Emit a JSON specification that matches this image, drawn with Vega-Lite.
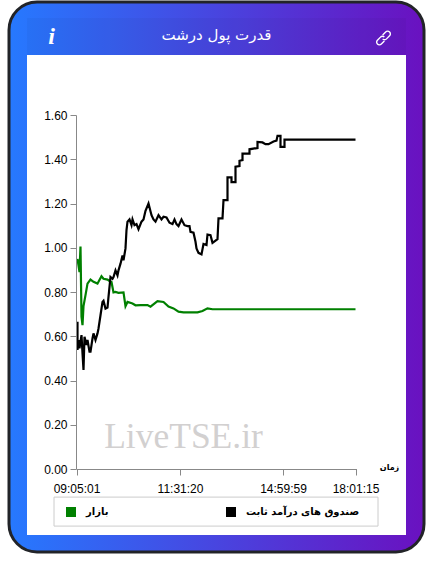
{
  "$schema": "https://vega.github.io/schema/vega-lite/v6.json",
  "width": 415,
  "height": 550,
  "padding": {"left": 9, "top": 2, "right": 9, "bottom": 22},
  "autosize": "none",
  "background": "white",
  "view": {
    "cornerRadius": 28,
    "stroke": "#222428",
    "strokeWidth": 3,
    "fill": {
      "gradient": "linear",
      "x1": 0, "y1": 0, "x2": 1, "y2": 0,
      "stops": [
        {"offset": 0, "color": "#2679ff"},
        {"offset": 1, "color": "#6a11c0"}
      ]
    }
  },
  "title": {
    "text": "قدرت پول درشت",
    "anchor": "middle",
    "offset": -41,
    "color": "#ffffff",
    "font": "DejaVu Sans",
    "fontSize": 15,
    "fontWeight": "normal"
  },
  "datasets": {
    "panel": [{"from": -49.5, "to": 329.5, "low": -0.298, "high": 1.871}],
    "header": [{"from": -49.5, "to": 329.5, "low": 1.871, "high": 2.038}],
    "legendbox": [{"from": -22.5, "to": 301.5, "low": -0.258, "high": -0.127}],
    "notes": [
      {"sample": -25, "value": 1.953, "note": "i", "kind": "icon"},
      {"sample": 107, "value": 0.145, "note": "LiveTSE.ir", "kind": "mark"},
      {"sample": 313, "value": 0.01, "note": "زمان", "kind": "unit"}
    ],
    "link": [{"sample": 307, "value": 1.948}],
    "series": [
      {"sample": 1, "value": 0.95, "series": "بازار"},
      {"sample": 3, "value": 0.89, "series": "بازار"},
      {"sample": 4, "value": 1.006, "series": "بازار"},
      {"sample": 5, "value": 0.688, "series": "بازار"},
      {"sample": 6, "value": 0.65, "series": "بازار"},
      {"sample": 7, "value": 0.736, "series": "بازار"},
      {"sample": 9, "value": 0.786, "series": "بازار"},
      {"sample": 11, "value": 0.838, "series": "بازار"},
      {"sample": 13, "value": 0.85, "series": "بازار"},
      {"sample": 14, "value": 0.856, "series": "بازار"},
      {"sample": 17, "value": 0.846, "series": "بازار"},
      {"sample": 21, "value": 0.838, "series": "بازار"},
      {"sample": 22, "value": 0.846, "series": "بازار"},
      {"sample": 25, "value": 0.871, "series": "بازار"},
      {"sample": 27, "value": 0.86, "series": "بازار"},
      {"sample": 31, "value": 0.856, "series": "بازار"},
      {"sample": 33, "value": 0.85, "series": "بازار"},
      {"sample": 35, "value": 0.845, "series": "بازار"},
      {"sample": 37, "value": 0.798, "series": "بازار"},
      {"sample": 39, "value": 0.8, "series": "بازار"},
      {"sample": 42, "value": 0.796, "series": "بازار"},
      {"sample": 47, "value": 0.798, "series": "بازار"},
      {"sample": 49, "value": 0.736, "series": "بازار"},
      {"sample": 51, "value": 0.755, "series": "بازار"},
      {"sample": 56, "value": 0.748, "series": "بازار"},
      {"sample": 59, "value": 0.74, "series": "بازار"},
      {"sample": 64, "value": 0.741, "series": "بازار"},
      {"sample": 71, "value": 0.741, "series": "بازار"},
      {"sample": 74, "value": 0.734, "series": "بازار"},
      {"sample": 81, "value": 0.759, "series": "بازار"},
      {"sample": 87, "value": 0.755, "series": "بازار"},
      {"sample": 92, "value": 0.734, "series": "بازار"},
      {"sample": 97, "value": 0.726, "series": "بازار"},
      {"sample": 102, "value": 0.711, "series": "بازار"},
      {"sample": 107, "value": 0.708, "series": "بازار"},
      {"sample": 121, "value": 0.708, "series": "بازار"},
      {"sample": 126, "value": 0.714, "series": "بازار"},
      {"sample": 131, "value": 0.726, "series": "بازار"},
      {"sample": 136, "value": 0.722, "series": "بازار"},
      {"sample": 180, "value": 0.722, "series": "بازار"},
      {"sample": 279, "value": 0.722, "series": "بازار"},

      {"sample": 1, "value": 0.666, "series": "صندوق های درآمد ثابت"},
      {"sample": 1, "value": 0.538, "series": "صندوق های درآمد ثابت"},
      {"sample": 2, "value": 0.583, "series": "صندوق های درآمد ثابت"},
      {"sample": 3, "value": 0.545, "series": "صندوق های درآمد ثابت"},
      {"sample": 5, "value": 0.605, "series": "صندوق های درآمد ثابت"},
      {"sample": 6, "value": 0.523, "series": "صندوق های درآمد ثابت"},
      {"sample": 7, "value": 0.448, "series": "صندوق های درآمد ثابت"},
      {"sample": 8, "value": 0.598, "series": "صندوق های درآمد ثابت"},
      {"sample": 10, "value": 0.56, "series": "صندوق های درآمد ثابت"},
      {"sample": 11, "value": 0.583, "series": "صندوق های درآمد ثابت"},
      {"sample": 13, "value": 0.53, "series": "صندوق های درآمد ثابت"},
      {"sample": 14, "value": 0.53, "series": "صندوق های درآمد ثابت"},
      {"sample": 16, "value": 0.59, "series": "صندوق های درآمد ثابت"},
      {"sample": 17, "value": 0.613, "series": "صندوق های درآمد ثابت"},
      {"sample": 19, "value": 0.583, "series": "صندوق های درآمد ثابت"},
      {"sample": 21, "value": 0.613, "series": "صندوق های درآمد ثابت"},
      {"sample": 22, "value": 0.635, "series": "صندوق های درآمد ثابت"},
      {"sample": 24, "value": 0.695, "series": "صندوق های درآمد ثابت"},
      {"sample": 26, "value": 0.755, "series": "صندوق های درآمد ثابت"},
      {"sample": 27, "value": 0.76, "series": "صندوق های درآمد ثابت"},
      {"sample": 29, "value": 0.725, "series": "صندوق های درآمد ثابت"},
      {"sample": 31, "value": 0.73, "series": "صندوق های درآمد ثابت"},
      {"sample": 32, "value": 0.778, "series": "صندوق های درآمد ثابت"},
      {"sample": 34, "value": 0.868, "series": "صندوق های درآمد ثابت"},
      {"sample": 36, "value": 0.86, "series": "صندوق های درآمد ثابت"},
      {"sample": 37, "value": 0.868, "series": "صندوق های درآمد ثابت"},
      {"sample": 39, "value": 0.898, "series": "صندوق های درآمد ثابت"},
      {"sample": 41, "value": 0.875, "series": "صندوق های درآمد ثابت"},
      {"sample": 42, "value": 0.898, "series": "صندوق های درآمد ثابت"},
      {"sample": 44, "value": 0.928, "series": "صندوق های درآمد ثابت"},
      {"sample": 46, "value": 0.965, "series": "صندوق های درآمد ثابت"},
      {"sample": 47, "value": 0.943, "series": "صندوق های درآمد ثابت"},
      {"sample": 49, "value": 0.997, "series": "صندوق های درآمد ثابت"},
      {"sample": 50, "value": 1.08, "series": "صندوق های درآمد ثابت"},
      {"sample": 51, "value": 1.118, "series": "صندوق های درآمد ثابت"},
      {"sample": 53, "value": 1.128, "series": "صندوق های درآمد ثابت"},
      {"sample": 55, "value": 1.102, "series": "صندوق های درآمد ثابت"},
      {"sample": 56, "value": 1.128, "series": "صندوق های درآمد ثابت"},
      {"sample": 58, "value": 1.102, "series": "صندوق های درآمد ثابت"},
      {"sample": 60, "value": 1.107, "series": "صندوق های درآمد ثابت"},
      {"sample": 62, "value": 1.084, "series": "صندوق های درآمد ثابت"},
      {"sample": 65, "value": 1.118, "series": "صندوق های درآمد ثابت"},
      {"sample": 67, "value": 1.128, "series": "صندوق های درآمد ثابت"},
      {"sample": 69, "value": 1.167, "series": "صندوق های درآمد ثابت"},
      {"sample": 72, "value": 1.2, "series": "صندوق های درآمد ثابت"},
      {"sample": 75, "value": 1.147, "series": "صندوق های درآمد ثابت"},
      {"sample": 77, "value": 1.128, "series": "صندوق های درآمد ثابت"},
      {"sample": 79, "value": 1.118, "series": "صندوق های درآمد ثابت"},
      {"sample": 82, "value": 1.147, "series": "صندوق های درآمد ثابت"},
      {"sample": 85, "value": 1.128, "series": "صندوق های درآمد ثابت"},
      {"sample": 87, "value": 1.14, "series": "صندوق های درآمد ثابت"},
      {"sample": 90, "value": 1.137, "series": "صندوق های درآمد ثابت"},
      {"sample": 93, "value": 1.113, "series": "صندوق های درآمد ثابت"},
      {"sample": 96, "value": 1.107, "series": "صندوق های درآمد ثابت"},
      {"sample": 98, "value": 1.128, "series": "صندوق های درآمد ثابت"},
      {"sample": 100, "value": 1.107, "series": "صندوق های درآمد ثابت"},
      {"sample": 102, "value": 1.098, "series": "صندوق های درآمد ثابت"},
      {"sample": 105, "value": 1.128, "series": "صندوق های درآمد ثابت"},
      {"sample": 108, "value": 1.102, "series": "صندوق های درآمد ثابت"},
      {"sample": 111, "value": 1.098, "series": "صندوق های درآمد ثابت"},
      {"sample": 113, "value": 1.098, "series": "صندوق های درآمد ثابت"},
      {"sample": 114, "value": 1.072, "series": "صندوق های درآمد ثابت"},
      {"sample": 117, "value": 1.068, "series": "صندوق های درآمد ثابت"},
      {"sample": 119, "value": 1.027, "series": "صندوق های درآمد ثابت"},
      {"sample": 120, "value": 0.997, "series": "صندوق های درآمد ثابت"},
      {"sample": 122, "value": 0.977, "series": "صندوق های درآمد ثابت"},
      {"sample": 125, "value": 0.97, "series": "صندوق های درآمد ثابت"},
      {"sample": 127, "value": 1.017, "series": "صندوق های درآمد ثابت"},
      {"sample": 130, "value": 1.012, "series": "صندوق های درآمد ثابت"},
      {"sample": 131, "value": 1.06, "series": "صندوق های درآمد ثابت"},
      {"sample": 134, "value": 1.057, "series": "صندوق های درآمد ثابت"},
      {"sample": 136, "value": 1.022, "series": "صندوق های درآمد ثابت"},
      {"sample": 141, "value": 1.039, "series": "صندوق های درآمد ثابت"},
      {"sample": 142, "value": 1.133, "series": "صندوق های درآمد ثابت"},
      {"sample": 146, "value": 1.133, "series": "صندوق های درآمد ثابت"},
      {"sample": 147, "value": 1.215, "series": "صندوق های درآمد ثابت"},
      {"sample": 151, "value": 1.215, "series": "صندوق های درآمد ثابت"},
      {"sample": 151, "value": 1.318, "series": "صندوق های درآمد ثابت"},
      {"sample": 155, "value": 1.318, "series": "صندوق های درآمد ثابت"},
      {"sample": 155, "value": 1.297, "series": "صندوق های درآمد ثابت"},
      {"sample": 159, "value": 1.297, "series": "صندوق های درآمد ثابت"},
      {"sample": 159, "value": 1.366, "series": "صندوق های درآمد ثابت"},
      {"sample": 163, "value": 1.369, "series": "صندوق های درآمد ثابت"},
      {"sample": 163, "value": 1.393, "series": "صندوق های درآمد ثابت"},
      {"sample": 166, "value": 1.396, "series": "صندوق های درآمد ثابت"},
      {"sample": 166, "value": 1.425, "series": "صندوق های درآمد ثابت"},
      {"sample": 173, "value": 1.425, "series": "صندوق های درآمد ثابت"},
      {"sample": 173, "value": 1.445, "series": "صندوق های درآمد ثابت"},
      {"sample": 181, "value": 1.451, "series": "صندوق های درآمد ثابت"},
      {"sample": 181, "value": 1.478, "series": "صندوق های درآمد ثابت"},
      {"sample": 186, "value": 1.476, "series": "صندوق های درآمد ثابت"},
      {"sample": 189, "value": 1.468, "series": "صندوق های درآمد ثابت"},
      {"sample": 192, "value": 1.468, "series": "صندوق های درآمد ثابت"},
      {"sample": 197, "value": 1.48, "series": "صندوق های درآمد ثابت"},
      {"sample": 200, "value": 1.484, "series": "صندوق های درآمد ثابت"},
      {"sample": 201, "value": 1.506, "series": "صندوق های درآمد ثابت"},
      {"sample": 204, "value": 1.506, "series": "صندوق های درآمد ثابت"},
      {"sample": 204, "value": 1.456, "series": "صندوق های درآمد ثابت"},
      {"sample": 208, "value": 1.456, "series": "صندوق های درآمد ثابت"},
      {"sample": 208, "value": 1.489, "series": "صندوق های درآمد ثابت"},
      {"sample": 279, "value": 1.489, "series": "صندوق های درآمد ثابت"}
    ]
  },
  "data": {"name": "series"},
  "layer": [
    {
      "data": {"name": "panel"},
      "mark": {"type": "rect", "fill": "white"},
      "encoding": {
        "x": {
          "field": "from",
          "type": "quantitative",
          "title": null,
          "scale": {"domain": [0, 279], "range": [67.5, 347.5]},
          "axis": {
            "values": [0, 103.5, 206.5, 279],
            "labelExpr": "datum.value === 0 ? '09:05:01' : datum.value === 103.5 ? '11:31:20' : datum.value === 206.5 ? '14:59:59' : '18:01:15'",
            "offset": -83,
            "zindex": 1,
            "grid": false,
            "domainColor": "#888888",
            "tickColor": "#888888",
            "tickSize": 6,
            "labelColor": "#000000",
            "labelFont": "Liberation Sans",
            "labelFontSize": 12,
            "labelPadding": 8,
            "labelFlush": false,
            "labelOverlap": false
          }
        },
        "x2": {"field": "to"},
        "y": {
          "field": "low",
          "type": "quantitative",
          "title": null,
          "scale": {"domain": [0, 1.6], "range": [467, 113]},
          "axis": {
            "values": [0, 0.2, 0.4, 0.6, 0.8, 1, 1.2, 1.4, 1.6],
            "format": ".2f",
            "offset": -67,
            "zindex": 1,
            "grid": false,
            "domainColor": "#888888",
            "tickColor": "#888888",
            "tickSize": 6,
            "labelColor": "#000000",
            "labelFont": "Liberation Sans",
            "labelFontSize": 12,
            "labelPadding": 3
          }
        },
        "y2": {"field": "high"}
      }
    },
    {
      "data": {"name": "header"},
      "mark": {"type": "rect", "fill": "#000000", "fillOpacity": 0.03},
      "encoding": {
        "x": {"field": "from", "type": "quantitative"},
        "x2": {"field": "to"},
        "y": {"field": "low", "type": "quantitative"},
        "y2": {"field": "high"}
      }
    },
    {
      "data": {"name": "legendbox"},
      "mark": {"type": "rect", "fill": "white", "stroke": "#cccccc", "strokeWidth": 1},
      "encoding": {
        "x": {"field": "from", "type": "quantitative"},
        "x2": {"field": "to"},
        "y": {"field": "low", "type": "quantitative"},
        "y2": {"field": "high"}
      }
    },
    {
      "data": {"name": "notes"},
      "transform": [{"filter": "datum.kind === 'mark'"}],
      "mark": {"type": "text", "font": "Liberation Serif", "fontSize": 35.5, "fill": "#d2d0d0", "baseline": "middle"},
      "encoding": {
        "x": {"field": "sample", "type": "quantitative"},
        "y": {"field": "value", "type": "quantitative"},
        "text": {"field": "note"}
      }
    },
    {
      "mark": {"type": "line", "strokeWidth": 2.2, "interpolate": "linear", "clip": false},
      "encoding": {
        "x": {"field": "sample", "type": "quantitative"},
        "y": {"field": "value", "type": "quantitative"},
        "color": {
          "field": "series",
          "type": "nominal",
          "title": null,
          "scale": {"domain": ["بازار", "صندوق های درآمد ثابت"], "range": ["#008000", "#000000"]},
          "legend": {
            "orient": "none",
            "legendX": 45,
            "legendY": 496,
            "direction": "horizontal",
            "columns": 2,
            "columnPadding": 114,
            "symbolType": "square",
            "symbolSize": 100,
            "symbolOffset": 3,
            "labelFont": "DejaVu Sans",
            "labelFontWeight": "bold",
            "labelFontSize": 10,
            "labelColor": "#000000",
            "labelOffset": 10,
            "labelLimit": 200,
            "padding": 9,
            "encode": {
              "symbols": {
                "update": {
                  "fill": {"scale": "color", "field": "value"},
                  "strokeWidth": {"value": 0}
                }
              }
            }
          }
        }
      }
    },
    {
      "data": {"name": "notes"},
      "transform": [{"filter": "datum.kind === 'unit'"}],
      "mark": {"type": "text", "font": "DejaVu Sans", "fontSize": 8, "fontWeight": "bold", "fill": "#000000", "dy": 1},
      "encoding": {
        "x": {"field": "sample", "type": "quantitative"},
        "y": {"field": "value", "type": "quantitative"},
        "text": {"field": "note"}
      }
    },
    {
      "data": {"name": "notes"},
      "transform": [{"filter": "datum.kind === 'icon'"}],
      "mark": {"type": "text", "font": "Liberation Serif", "fontSize": 24, "fontStyle": "italic", "fontWeight": "bold", "fill": "#ffffff"},
      "encoding": {
        "x": {"field": "sample", "type": "quantitative"},
        "y": {"field": "value", "type": "quantitative"},
        "text": {"field": "note"}
      }
    },
    {
      "data": {"name": "link"},
      "mark": {
        "type": "point",
        "filled": false,
        "stroke": "#ffffff",
        "strokeWidth": 1.4,
        "size": 300,
        "opacity": 1,
        "shape": "M-0.1 -0.35 L0.25 -0.7 A0.3 0.3 0 0 1 0.7 -0.25 L0.35 0.1 A0.3 0.3 0 0 1 -0.1 0.1 M0.1 0.35 L-0.25 0.7 A0.3 0.3 0 0 1 -0.7 0.25 L-0.35 -0.1 A0.3 0.3 0 0 1 0.1 -0.1"
      },
      "encoding": {
        "x": {"field": "sample", "type": "quantitative"},
        "y": {"field": "value", "type": "quantitative"}
      }
    }
  ]
}
